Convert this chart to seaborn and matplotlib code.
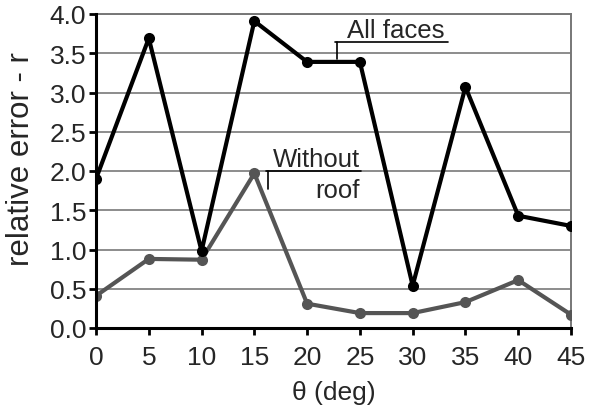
import matplotlib
matplotlib.use("Agg")
import matplotlib.pyplot as plt
import seaborn as sns
import pandas as pd

theta = [0, 5, 10, 15, 20, 25, 30, 35, 40, 45]
all_faces = [1.90, 3.69, 0.98, 3.91, 3.39, 3.39, 0.54, 3.07, 1.43, 1.30]
without_roof = [0.41, 0.88, 0.87, 1.97, 0.31, 0.19, 0.19, 0.33, 0.61, 0.17]
y_ticks = [0.0, 0.5, 1.0, 1.5, 2.0, 2.5, 3.0, 3.5, 4.0]

sns.set_theme(style="white")
plt.rcParams["font.family"] = ["Liberation Sans", "DejaVu Sans"]

df = pd.DataFrame({"theta": theta, "All faces": all_faces, "Without roof": without_roof})

fig = plt.figure(figsize=(5.9, 4.14), dpi=100)
ax = fig.add_axes([96 / 590, 1 - 329 / 414, (571 - 96) / 590, (329 - 15) / 414])

for y in y_ticks[1:]:
    ax.axhline(y, color="#8c8c8c", lw=1.4, zorder=0)

sns.lineplot(data=df, x="theta", y="Without roof", ax=ax, color="#555555", lw=3,
             marker="o", markersize=8, markeredgewidth=0, zorder=3)
sns.lineplot(data=df, x="theta", y="All faces", ax=ax, color="#000000", lw=3,
             marker="o", markersize=8, markeredgewidth=0, zorder=4)

ax.set_xlim(0, 45)
ax.set_ylim(0, 4.0)
ax.set_xticks(theta)
ax.set_yticks(y_ticks)
ax.set_yticklabels([f"{v:.1f}" for v in y_ticks])
ax.tick_params(axis="both", labelsize=19, length=5, width=2, direction="out",
               color="black", pad=2, bottom=True, left=True)
ax.tick_params(axis="x", pad=7)
ax.set_xlabel("θ (deg)", fontsize=19, labelpad=8)
ax.set_ylabel("relative error - r", fontsize=22.5)
ax.yaxis.set_label_coords(-0.127, 0.54)

for side in ("top", "right"):
    ax.spines[side].set_color("#777777")
    ax.spines[side].set_linewidth(1.4)
for side in ("left", "bottom"):
    ax.spines[side].set_color("black")
    ax.spines[side].set_linewidth(2.2)
    ax.spines[side].set_zorder(5)
for sp in ax.spines.values():
    sp.set_clip_on(False)

# series labels with leader lines
ax.text(23.8, 3.71, "All faces", fontsize=18.5, ha="left", va="baseline")
ax.plot([22.6, 33.35], [3.64, 3.64], color="black", lw=1.2)
ax.plot([22.83, 22.83], [3.64, 3.43], color="black", lw=1.2)

ax.text(25.0, 2.06, "Without", fontsize=18.5, ha="right", va="baseline")
ax.text(25.0, 1.67, "roof", fontsize=18.5, ha="right", va="baseline")
ax.plot([16.1, 25.1], [2.0, 2.0], color="black", lw=1.2)
ax.plot([16.3, 16.3], [2.0, 1.77], color="black", lw=1.2)

fig.savefig("out.png", dpi=100)
